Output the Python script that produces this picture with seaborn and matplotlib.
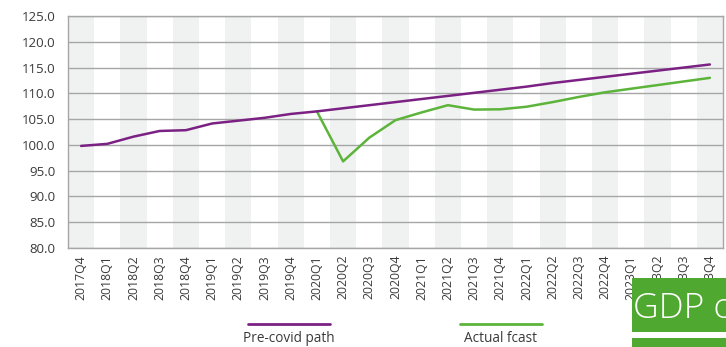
import matplotlib
matplotlib.use("Agg")
import matplotlib.pyplot as plt
import seaborn as sns
import numpy as np
import pandas as pd
from matplotlib.lines import Line2D
from matplotlib.patches import Rectangle

quarters = ["2017Q4", "2018Q1", "2018Q2", "2018Q3", "2018Q4", "2019Q1", "2019Q2",
            "2019Q3", "2019Q4", "2020Q1", "2020Q2", "2020Q3", "2020Q4", "2021Q1",
            "2021Q2", "2021Q3", "2021Q4", "2022Q1", "2022Q2", "2022Q3", "2022Q4",
            "2023Q1", "2023Q2", "2023Q3", "2023Q4"]
pre_covid = [99.8, 100.2, 101.6, 102.7, 102.85, 104.15, 104.7, 105.25, 106.0,
             106.5, 107.1, 107.7, 108.3, 108.9, 109.5, 110.1, 110.7, 111.3,
             112.0, 112.6, 113.2, 113.8, 114.4, 115.0, 115.6]
actual_fcast = [None] * 9 + [106.5, 96.8, 101.4, 104.8, 106.3, 107.7, 106.85, 106.9,
                             107.4, 108.3, 109.3, 110.2, 110.9, 111.6, 112.3, 113.0]
series_names = ["Pre-covid path", "Actual fcast"]
y_ticks = [80, 85, 90, 95, 100, 105, 110, 115, 120, 125]

PURPLE = "#7B2183"
GREEN = "#5CB43A"
BOX_GREEN = "#4FA82F"

sns.set_theme(style="white")
plt.rcParams["font.family"] = ["Open Sans", "DejaVu Sans"]

idx = np.arange(len(quarters))
df = pd.DataFrame({
    "idx": np.concatenate([idx, idx]),
    "value": np.array(pre_covid + actual_fcast, dtype=float),
    "series": [series_names[0]] * len(quarters) + [series_names[1]] * len(quarters),
})

fig = plt.figure(figsize=(7.26, 3.47), dpi=100)
ax = fig.add_axes([68 / 726, 1 - 248 / 347, 655 / 726, 232 / 347])

for i in range(0, len(quarters), 2):
    ax.axvspan(i - 0.5, i + 0.5, color="#F0F1F1", lw=0, zorder=0)

for y in y_ticks:
    ax.axhline(y, color="#A6A6A6", lw=1.0, zorder=1)

sns.lineplot(data=df.dropna(), x="idx", y="value", hue="series",
             palette={series_names[0]: PURPLE, series_names[1]: GREEN},
             hue_order=series_names[::-1], lw=1.8, ax=ax, legend=False, zorder=3)

ax.set_xlim(-0.5, len(quarters) - 0.5)
ax.set_ylim(80, 125)
ax.set_yticks(y_ticks)
ax.set_yticklabels([f"{v:.1f}" for v in y_ticks], fontsize=9.5, color="#3A3A3A")
ax.set_xticks(idx)
ax.set_xticklabels(quarters, rotation=90, fontsize=8.8, color="#3A3A3A")
ax.tick_params(axis="y", length=0, pad=9)
ax.tick_params(axis="x", length=0, pad=5)
ax.set_xlabel("")
ax.set_ylabel("")
for s in ["left", "top", "right", "bottom"]:
    ax.spines[s].set_color("#A6A6A6")
    ax.spines[s].set_linewidth(1.0)

# legend: handle above label
leg_items = [(series_names[0], PURPLE, 289), (series_names[1], GREEN, 501)]
for name, col, cx in leg_items:
    fig.add_artist(Line2D([(cx - 41) / 726, (cx + 41) / 726], [1 - 324 / 347] * 2,
                          color=col, lw=2.0, transform=fig.transFigure))
    fig.text(cx / 726, 1 - 338 / 347, name, ha="center", va="center",
             fontsize=9.8, color="#3A3A3A")

# overlaid green title box at bottom right
fig.add_artist(Rectangle((632 / 726, 1 - 332 / 347), 94 / 726, 54 / 347,
                         transform=fig.transFigure, color=BOX_GREEN, lw=0, zorder=5))
fig.add_artist(Rectangle((632 / 726, 0), 94 / 726, 9 / 347,
                         transform=fig.transFigure, color=BOX_GREEN, lw=0, zorder=5))
fig.text(633 / 726, 1 - 309 / 347, "GDP c", ha="left", va="center",
         fontsize=25.5, color="white", fontweight="light", zorder=6)

fig.savefig("out.png", dpi=100)
